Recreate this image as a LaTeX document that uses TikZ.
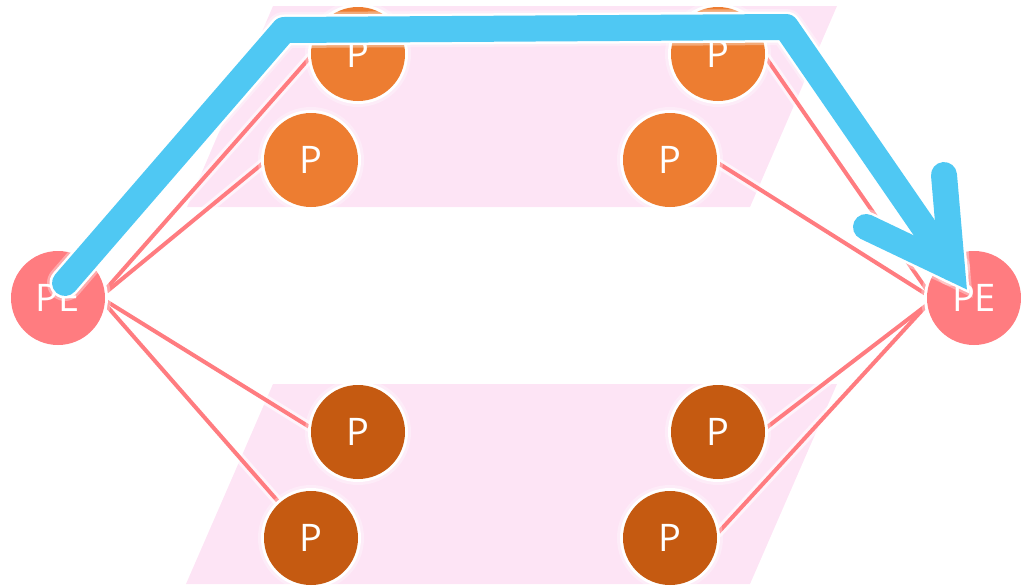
\documentclass[tikz,border=0pt]{standalone}
\usepackage{fontspec}
\setmainfont{Open Sans}
\definecolor{bandpink}{RGB}{253,228,245}
\definecolor{linkred}{RGB}{255,124,128}
\definecolor{porange}{RGB}{237,125,49}
\definecolor{pdark}{RGB}{197,90,17}
\definecolor{pered}{RGB}{255,124,128}
\definecolor{pathblue}{RGB}{79,200,243}
\pgfdeclarelayer{bands}
\pgfdeclarelayer{links}
\pgfdeclarelayer{front}
\pgfsetlayers{bands,links,main,front}

\begin{document}
\begin{tikzpicture}[x=1pt,y=-1pt,
  dev/.style={circle, minimum size=94pt, inner sep=0pt, text=white,
    font=\fontsize{38}{38}\selectfont,
    preaction={draw=white, line width=12pt, opacity=0.3},
    preaction={draw=white, line width=6pt}},
  pnode/.style={dev, fill=porange},
  pdnode/.style={dev, fill=pdark},
  penode/.style={dev, fill=pered},
  band/.style={fill=bandpink},
  linkhalo/.style={draw=white, line width=10pt, opacity=0.6},
  link/.style={draw=linkred, line width=4pt},
  routehalo/.style={draw=white, line width=36pt, opacity=0.35, line cap=round},
  routehalob/.style={draw=white, line width=31pt, line cap=round},
  route/.style={draw=pathblue, line width=26pt, line cap=round}
]
\useasboundingbox (0,0) rectangle (1021,587);

% shaded bands
\begin{pgfonlayer}{bands}
  \fill[band] (273,6) -- (837,6) -- (750,207) -- (187,207) -- cycle;
  \fill[band] (273,384) -- (837,384) -- (750,584) -- (186,584) -- cycle;
\end{pgfonlayer}

% end points
\node[penode] (PEL) at (58,298) {PE};
\node[penode] (PER) at (974,298) {PE};

% upper band
\node[pnode] (T1) at (358,54) {P};
\node[pnode] (T2) at (311,160) {P};
\node[pnode] (T3) at (718,54) {P};
\node[pnode] (T4) at (670,160) {P};

% lower band
\node[pdnode] (B1) at (358,432) {P};
\node[pdnode] (B2) at (311,538) {P};
\node[pdnode] (B3) at (718,432) {P};
\node[pdnode] (B4) at (670,538) {P};

% links
\begin{pgfonlayer}{links}
  \foreach \a/\b in {PEL.9/T1.183, PEL.6/T2.183, PEL.357/B1.175, PEL.353/B2.132,
                     T3.357/PER.171, T4.357/PER.176, B3.4/PER.188, B4.5/PER.188}
    \draw[linkhalo] (\a) -- (\b);
  \foreach \a/\b in {PEL.9/T1.183, PEL.6/T2.183, PEL.357/B1.175, PEL.353/B2.132,
                     T3.357/PER.171, T4.357/PER.176, B3.4/PER.188, B4.5/PER.188}
    \draw[link] (\a) -- (\b);
\end{pgfonlayer}

% highlighted route
\coordinate (rs) at (65,283);
\coordinate (r1) at (284,30);
\coordinate (r2) at (786,27);
\coordinate (rt) at (952,268);
\coordinate (ha) at (866,227);
\coordinate (hb) at (944,175);
\begin{pgfonlayer}{front}
  \draw[routehalo, line join=round] (rs) -- (r1) -- (r2) -- (rt);
  \draw[routehalo, line join=miter] (ha) -- (rt) -- (hb);
  \draw[routehalob, line join=round] (rs) -- (r1) -- (r2) -- (rt);
  \draw[routehalob, line join=miter] (ha) -- (rt) -- (hb);
  \draw[route, line join=round] (rs) -- (r1) -- (r2) -- (rt);
  \draw[route, line join=miter] (ha) -- (rt) -- (hb);
\end{pgfonlayer}
\end{tikzpicture}
\end{document}
